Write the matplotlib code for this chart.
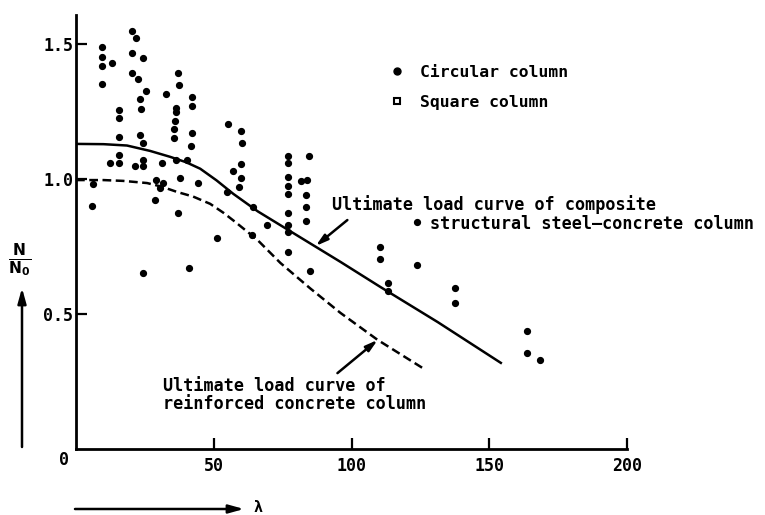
import matplotlib
matplotlib.use("Agg")
import matplotlib.pyplot as plt
from matplotlib.lines import Line2D

plt.rcParams['font.family'] = ['DejaVu Sans Mono', 'DejaVu Sans']
plt.rcParams['font.weight'] = 'bold'

# slenderness and relative load N/N0 of the test columns
slenderness = [20.4, 21.8, 9.5, 9.5, 9.5, 9.5, 13.1, 20.4, 24.4, 20.4,
               22.5, 25.5, 23.3, 23.6, 37.1, 37.5, 32.7, 42.2, 42.2, 36.4,
               36.4, 36.0, 35.6, 42.2, 15.6, 15.6, 15.6, 23.3, 24.4, 35.6,
               41.8, 12.4, 15.6, 15.6, 21.5, 24.4, 24.4, 31.3, 36.4, 40.4,
               6.2, 5.8, 29.1, 31.6, 30.5, 37.8, 44.4, 28.7, 37.1, 54.9,
               51.3, 24.4, 41.1, 55.3, 60.0, 60.4, 60.0, 57.1, 60.0, 59.3,
               64.4, 69.5, 64.0, 77.1, 77.1, 77.1, 77.1, 77.1, 77.1, 77.1,
               77.1, 77.1, 84.4, 81.5, 84.0, 83.6, 83.6, 83.6, 85.1, 123.6,
               110.5, 110.2, 123.6, 113.1, 113.1, 137.5, 137.5, 163.6, 163.6, 168.4]
load_ratio = [1.548, 1.522, 1.489, 1.452, 1.419, 1.352, 1.430, 1.467, 1.448, 1.393,
              1.370, 1.326, 1.296, 1.259, 1.393, 1.348, 1.315, 1.304, 1.270, 1.263,
              1.248, 1.215, 1.185, 1.170, 1.256, 1.226, 1.156, 1.163, 1.133, 1.152,
              1.122, 1.059, 1.089, 1.059, 1.048, 1.070, 1.048, 1.059, 1.070, 1.070,
              0.981, 0.900, 0.996, 0.985, 0.967, 1.004, 0.985, 0.922, 0.874, 0.952,
              0.781, 0.652, 0.670, 1.204, 1.178, 1.133, 1.056, 1.030, 1.004, 0.970,
              0.896, 0.830, 0.793, 1.085, 1.059, 1.007, 0.974, 0.944, 0.874, 0.830,
              0.804, 0.730, 1.085, 0.993, 0.996, 0.941, 0.896, 0.844, 0.659, 0.841,
              0.748, 0.704, 0.681, 0.615, 0.585, 0.596, 0.541, 0.437, 0.356, 0.330]

# ultimate load curve, composite steel-concrete column
comp_lambda = [0, 10.0, 18.5, 26.9, 34.2, 40.0, 45.1, 51.0, 57.1, 66.0, 75.3, 96.0,
               110.5, 131.3, 154.2]
comp_ratio = [1.13, 1.129, 1.124, 1.104, 1.082, 1.062, 1.038, 0.995, 0.945, 0.880,
              0.822, 0.693, 0.600, 0.470, 0.319]

# ultimate load curve, reinforced concrete column
rc_lambda = [0, 10.0, 17.1, 25.8, 31.0, 36.7, 42.5, 48.7, 53.5, 57.8, 65.8, 74.2,
             85.0, 96.0, 109.5, 126.9]
rc_ratio = [0.996, 0.996, 0.993, 0.985, 0.972, 0.952, 0.935, 0.908, 0.875, 0.841,
            0.775, 0.689, 0.595, 0.504, 0.404, 0.293]

x_ticks = [50, 100, 150, 200]
x_tick_labels = ['50', '100', '150', '200']
y_ticks = [0.5, 1.0, 1.5]
y_tick_labels = ['0.5', '1.0', '1.5']

W, H = 765, 515
fig = plt.figure(figsize=(W / 100, H / 100), dpi=100)
fig.patch.set_facecolor('white')
ax = fig.add_axes([76 / W, (H - 449) / H, (627 - 76) / W, (449 - 15) / H])
ax.set_xlim(0, 200)
ax.set_ylim(0, 434 / 270)

for s in ('top', 'right'):
    ax.spines[s].set_visible(False)
for s in ('left', 'bottom'):
    ax.spines[s].set_linewidth(2.0)

ax.set_xticks(x_ticks)
ax.set_xticklabels(x_tick_labels)
ax.set_yticks(y_ticks)
ax.set_yticklabels(y_tick_labels)
ax.tick_params(direction='in', length=8, width=1.6, labelsize=12, pad=2)
ax.tick_params(axis='x', pad=6)
for lab in ax.get_xticklabels() + ax.get_yticklabels():
    lab.set_fontweight('bold')
ax.text(-2.5, -0.04, '0', ha='right', va='center', fontsize=12, fontweight='bold',
        clip_on=False)

ax.plot(slenderness, load_ratio, 'o', color='black', markersize=4.2, clip_on=False)
ax.plot(comp_lambda, comp_ratio, '-', color='black', linewidth=1.8)
ax.plot(rc_lambda, rc_ratio, color='black', linewidth=1.8, dashes=(3.5, 1.8))

handles = [Line2D([], [], marker='o', ls='none', color='black', markersize=5),
           Line2D([], [], marker='s', ls='none', color='black', markerfacecolor='white',
                  markersize=5, markeredgewidth=1.5)]
fig.legend(handles, ['Circular column', 'Square column'], loc='upper left',
           bbox_to_anchor=(382 / W, 1 - 58 / H), frameon=False,
           prop={'family': 'DejaVu Sans Mono', 'weight': 'bold', 'size': 11.8},
           labelspacing=0.95, handletextpad=0.9, handlelength=1.0, borderaxespad=0)

ax.text(93.1, 0.905, 'Ultimate load curve of composite', ha='left', va='center',
        fontsize=12.1, fontweight='bold', clip_on=False)
ax.text(128.4, 0.835, 'structural steel\u2013concrete column', ha='left', va='center',
        fontsize=12.1, fontweight='bold', clip_on=False)
ax.annotate('', xy=(87.0, 0.752), xytext=(98.5, 0.848),
            arrowprops=dict(arrowstyle='-|>,head_length=0.7,head_width=0.2',
                            color='black', lw=1.8, shrinkA=0, shrinkB=0))

ax.text(31.6, 0.232, 'Ultimate load curve of', ha='left', va='center',
        fontsize=12.1, fontweight='bold')
ax.text(31.6, 0.165, 'reinforced concrete column', ha='left', va='center',
        fontsize=12.1, fontweight='bold')
ax.annotate('', xy=(109.5, 0.404), xytext=(94.9, 0.281),
            arrowprops=dict(arrowstyle='-|>,head_length=0.7,head_width=0.2',
                            color='black', lw=1.8, shrinkA=0, shrinkB=0))

# axis quantities with direction arrows
fig.text(20 / W, 1 - 260 / H, r'$\mathbf{\frac{N}{N_0}}$', ha='center', va='center',
         fontsize=16)
ax.annotate('', xy=(22, H - 288), xytext=(22, H - 447), xycoords='figure pixels',
            textcoords='figure pixels',
            arrowprops=dict(arrowstyle='-|>,head_length=0.9,head_width=0.25',
                            color='black', lw=1.8, shrinkA=0, shrinkB=0))
ax.annotate('', xy=(244, H - 509), xytext=(75, H - 509), xycoords='figure pixels',
            textcoords='figure pixels',
            arrowprops=dict(arrowstyle='-|>,head_length=0.9,head_width=0.25',
                            color='black', lw=1.8, shrinkA=0, shrinkB=0))
fig.text(258 / W, 1 - 508 / H, '\u03bb', ha='center', va='center', fontsize=11,
         fontweight='bold')

fig.savefig('out.png', dpi=100, facecolor='white')
